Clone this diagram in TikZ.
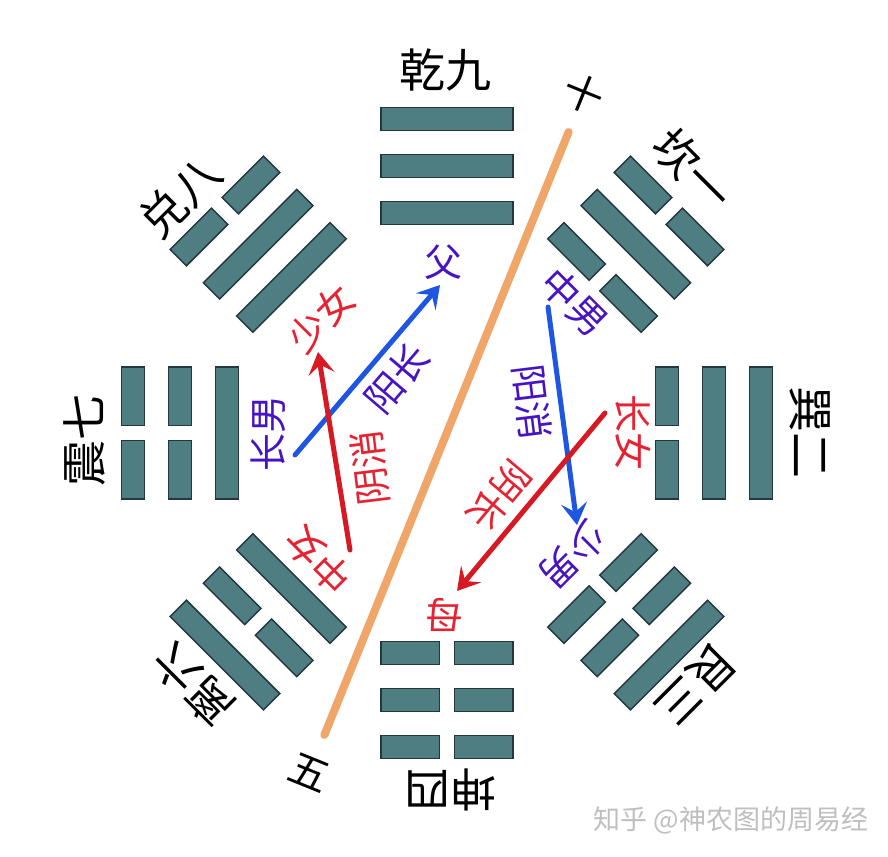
\documentclass[tikz,border=0pt]{standalone}
\usepackage{fontspec}
\newfontfamily\cjk{Noto Sans CJK SC}
\usetikzlibrary{arrows.meta}

\definecolor{yaofill}{RGB}{78,126,130}
\definecolor{yaoline}{RGB}{35,55,60}
\definecolor{yangblue}{RGB}{30,85,225}
\definecolor{yinred}{RGB}{215,25,35}
\definecolor{nanblue}{RGB}{72,20,195}
\definecolor{nvred}{RGB}{230,35,50}
\definecolor{ziwuline}{RGB}{240,165,105}

% solid / broken line of a trigram, #1 = distance from the centre
\newcommand{\yangyao}[1]{\draw[yao] (-66,#1-11.5) rectangle (66,#1+11.5);}
\newcommand{\yinyao}[1]{\draw[yao] (-66,#1-11.5) rectangle (-7.5,#1+11.5);
    \draw[yao] (7.5,#1-11.5) rectangle (66,#1+11.5);}

\begin{document}
\begin{tikzpicture}[x=1pt,y=1pt,
    yao/.style={fill=yaofill,draw=yaoline,line width=1.5pt},
    gua/.style={font=\cjk\fontsize{46}{46}\selectfont,inner sep=0pt},
    ren/.style={font=\cjk\fontsize{38}{38}\selectfont,inner sep=0pt},
    jiantou/.style={line width=5pt,line cap=round,-{Stealth[length=22pt,width=26pt,inset=9pt]}}]

    \useasboundingbox (0,0) rectangle (888,-856);
    \fill[white] (0,0) rectangle (888,-856);

    %%%%%%%%%%%%%%%%%%%%%%%%%%%%%%%%%%%%%%%%%%%%%%%%%%%%%%

    % qian, top
    \begin{scope}[shift={(447,-433)}]
        \yangyao{220} \yangyao{267} \yangyao{314}
    \end{scope}
    \node[gua] (qian) at (445,-70) {乾九};

    % dui, upper left
    \begin{scope}[shift={(447,-433)},rotate=45]
        \yangyao{220} \yangyao{267} \yinyao{314}
    \end{scope}
    \node[gua,rotate=45] (dui) at (180,-197) {兑八};

    % zhen, left
    \begin{scope}[shift={(447,-433)},rotate=90]
        \yangyao{220} \yinyao{267} \yinyao{314}
    \end{scope}
    \node[gua,rotate=90] (zhen) at (85,-440) {震七};

    % li, lower left
    \begin{scope}[shift={(447,-433)},rotate=135]
        \yangyao{220} \yinyao{267} \yangyao{314}
    \end{scope}
    \node[gua,rotate=135] (li) at (193,-685) {离六};

    %%%%%%%%%%%%%%%%%%%%%%%%%%%%%%%%%%%%%%%%%%%%%%%%%%%%%%

    % kun, bottom
    \begin{scope}[shift={(447,-433)},rotate=180]
        \yinyao{220} \yinyao{267} \yinyao{314}
    \end{scope}
    \node[gua,rotate=180] (kun) at (450,-790) {坤四};

    % gen, lower right
    \begin{scope}[shift={(447,-433)},rotate=-135]
        \yinyao{220} \yinyao{267} \yangyao{314}
    \end{scope}
    \node[gua,rotate=-135] (gen) at (695,-685) {艮三};

    % xun, right
    \begin{scope}[shift={(447,-433)},rotate=-90]
        \yinyao{220} \yangyao{267} \yangyao{314}
    \end{scope}
    \node[gua,rotate=-90] (xun) at (810,-432) {巽二};

    % kan, upper right
    \begin{scope}[shift={(447,-433)},rotate=-45]
        \yinyao{220} \yangyao{267} \yinyao{314}
    \end{scope}
    \node[gua,rotate=-45] (kan) at (693,-170) {坎一};

    %%%%%%%%%%%%%%%%%%%%%%%%%%%%%%%%%%%%%%%%%%%%%%%%%%%%%%

    % shi -- wu axis
    \node[font=\cjk\fontsize{40}{40}\selectfont,inner sep=0pt,rotate=-22] (shi) at (584,-94) {十};
    \node[font=\cjk\fontsize{40}{40}\selectfont,inner sep=0pt,rotate=-22] (wu) at (309,-773) {五};
    \draw[ziwuline,line width=8pt,line cap=round,shorten <=41pt,shorten >=41pt] (shi.center) -- (wu.center);

    %%%%%%%%%%%%%%%%%%%%%%%%%%%%%%%%%%%%%%%%%%%%%%%%%%%%%%

    % family members
    \node[ren,nanblue] (fu) at (443,-262) {父};
    \node[ren,nvred,rotate=45] (shaonv) at (321,-318) {少女};
    \node[ren,nanblue,rotate=90] (changnan) at (268,-433) {长男};
    \node[ren,nvred,rotate=135] (zhongnv) at (318,-560) {中女};
    \node[ren,nvred,rotate=180] (mu) at (444,-615) {母};
    \node[ren,nanblue,rotate=-135] (shaonan) at (573,-556) {少男};
    \node[ren,nvred,rotate=-90] (changnv) at (633,-432) {长女};
    \node[ren,nanblue,rotate=-45] (zhongnan) at (575,-302) {中男};

    %%%%%%%%%%%%%%%%%%%%%%%%%%%%%%%%%%%%%%%%%%%%%%%%%%%%%%

    % yang grows: changnan -> fu
    \coordinate (yz-a) at (295,-455);
    \coordinate (yz-b) at (440,-285);
    \draw[jiantou,yangblue] (yz-a) -- (yz-b);
    \node[ren,nanblue,rotate=49.5] (yangzhang) at (397,-378) {阳长};

    % yin wanes: zhongnv -> shaonv
    \coordinate (yx-a) at (350,-550);
    \coordinate (yx-b) at (318,-352);
    \draw[jiantou,yinred] (yx-a) -- (yx-b);
    \node[ren,nvred,rotate=97] (yinxiao) at (370,-468) {阴消};

    % yang wanes: zhongnan -> shaonan
    \coordinate (gx-a) at (548,-307);
    \coordinate (gx-b) at (577,-525);
    \draw[jiantou,yangblue] (gx-a) -- (gx-b);
    \node[ren,nanblue,rotate=-83] (yangxiao) at (532,-402) {阳消};

    % yin grows: changnv -> mu
    \coordinate (nz-a) at (605,-413);
    \coordinate (nz-b) at (457,-591);
    \draw[jiantou,yinred] (nz-a) -- (nz-b);
    \node[ren,nvred,rotate=-130] (yinzhang) at (499,-496) {阴长};

    %%%%%%%%%%%%%%%%%%%%%%%%%%%%%%%%%%%%%%%%%%%%%%%%%%%%%%

    % watermark
    \node[font=\cjk\fontsize{27}{27}\selectfont,black!25] (zhihu) at (731,-820) {知乎 @神农图的周易经};

\end{tikzpicture}
\end{document}
